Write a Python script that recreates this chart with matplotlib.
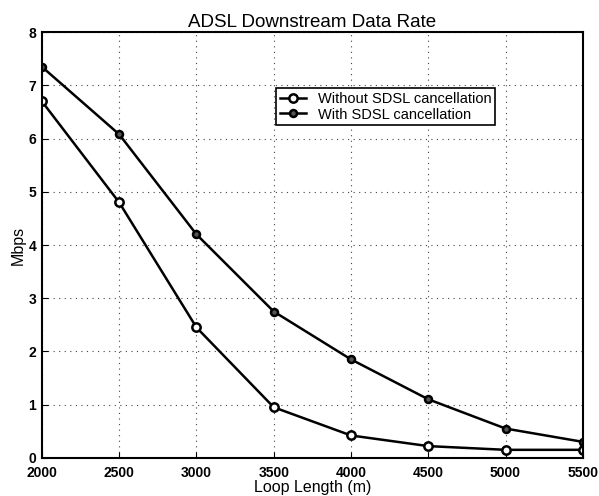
import numpy as np
import matplotlib.pyplot as plt

plt.rcParams['font.family'] = ['Liberation Sans', 'DejaVu Sans']

# Datos
loop_length = [2000, 2500, 3000, 3500, 4000, 4500, 5000, 5500]
sin_cancelacion = [6.7, 4.8, 2.45, 0.95, 0.42, 0.22, 0.15, 0.15]
con_cancelacion = [7.35, 6.08, 4.2, 2.75, 1.85, 1.1, 0.55, 0.3]
x_ticks = [2000, 2500, 3000, 3500, 4000, 4500, 5000, 5500]
y_ticks = [0, 1, 2, 3, 4, 5, 6, 7, 8]

fig = plt.figure(figsize=(5.99, 4.96), dpi=100)
ax = fig.add_axes([0.07, 0.077, 0.903, 0.858])

ax.plot(loop_length, sin_cancelacion, '-o', color='black', lw=1.8,
        markersize=6, markerfacecolor='white', markeredgewidth=1.8,
        label='Without SDSL cancellation')
ax.plot(loop_length, con_cancelacion, '-o', color='black', lw=1.8,
        markersize=5, markerfacecolor='#555555', markeredgewidth=1.8,
        label='With SDSL cancellation')

ax.set_xlim(2000, 5500)
ax.set_ylim(0, 8)
ax.set_xticks(x_ticks)
ax.set_yticks(y_ticks)
ax.tick_params(direction='in', labelsize=10, length=4)
ax.tick_params(axis='x', pad=6)
ax.tick_params(axis='y', pad=4)
for lbl in ax.get_xticklabels() + ax.get_yticklabels():
    lbl.set_fontweight('bold')
ax.grid(True, linestyle=(0, (1, 4)), color='#444444', lw=0.8)
for s in ax.spines.values():
    s.set_linewidth(1.5)

ax.set_title('ADSL Downstream Data Rate', fontsize=13.5, pad=4)
ax.set_xlabel('Loop Length (m)', fontsize=11.5, labelpad=0)
ax.set_ylabel('Mbps', fontsize=11.5, labelpad=2)

leg = ax.legend(loc='upper left', bbox_to_anchor=(0.42, 0.885), fontsize=10.5,
                frameon=True, fancybox=False, edgecolor='black', framealpha=1,
                handlelength=1.8, borderpad=0.25, labelspacing=0.1)
leg.get_frame().set_linewidth(1.2)

fig.savefig('out.png', dpi=100)
